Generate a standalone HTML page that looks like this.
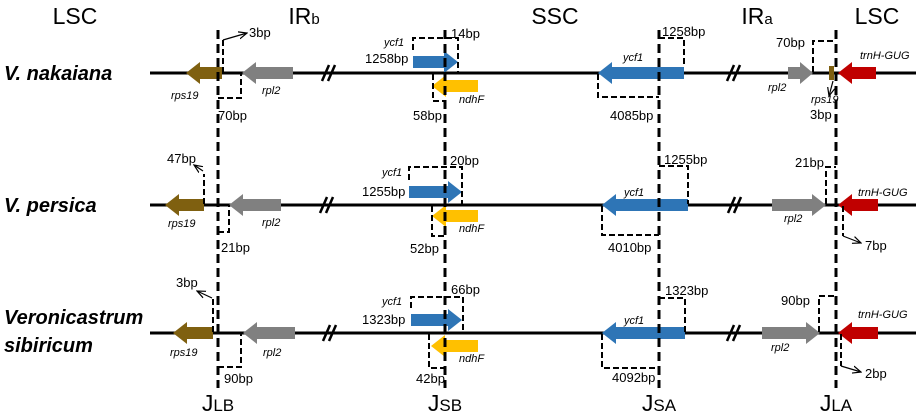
<!DOCTYPE html>
<html><head><meta charset="utf-8"><style>
html,body{margin:0;padding:0;background:#fff}
svg{display:block}
text{font-family:"Liberation Sans",Arial,sans-serif}
.bp{font-size:13px}
.g{font-size:11px;font-style:italic}
.h{font-size:23px}
.sp{font-weight:bold;font-style:italic;font-size:20px}
</style></head><body>
<svg width="921" height="419" viewBox="0 0 921 419" xmlns="http://www.w3.org/2000/svg">
<defs><marker id="ah" markerWidth="8" markerHeight="8" refX="7" refY="4" orient="auto"><path d="M0,1 L7,4 L0,7" fill="none" stroke="#000" stroke-width="1"/></marker></defs>
<text x="75" y="24" class="h" text-anchor="middle">LSC</text>
<text x="304" y="24" class="h" text-anchor="middle">IR<tspan font-size="15">b</tspan></text>
<text x="555" y="24" class="h" text-anchor="middle">SSC</text>
<text x="757" y="24" class="h" text-anchor="middle">IR<tspan font-size="15">a</tspan></text>
<text x="877" y="24" class="h" text-anchor="middle">LSC</text>
<text x="218" y="411" class="h" text-anchor="middle">J<tspan font-size="17">LB</tspan></text>
<text x="445" y="411" class="h" text-anchor="middle">J<tspan font-size="17">SB</tspan></text>
<text x="659" y="411" class="h" text-anchor="middle">J<tspan font-size="17">SA</tspan></text>
<text x="836" y="411" class="h" text-anchor="middle">J<tspan font-size="17">LA</tspan></text>
<text x="4" y="80" class="sp">V. nakaiana</text>
<text x="4" y="212" class="sp">V. persica</text>
<text x="4" y="324" class="sp">Veronicastrum</text>
<text x="4" y="352" class="sp">sibiricum</text>
<g stroke="#000" stroke-width="3">
<line x1="150" y1="73" x2="916" y2="73"/>
<line x1="150" y1="205" x2="916" y2="205"/>
<line x1="150" y1="333" x2="916" y2="333"/>
</g>
<g stroke="#000" stroke-width="2.5">
<line x1="322" y1="81" x2="329" y2="65"/><line x1="328" y1="81" x2="335" y2="65"/>
<line x1="727" y1="81" x2="734" y2="65"/><line x1="733" y1="81" x2="740" y2="65"/>
<line x1="320" y1="213" x2="327" y2="197"/><line x1="326" y1="213" x2="333" y2="197"/>
<line x1="728" y1="213" x2="735" y2="197"/><line x1="734" y1="213" x2="741" y2="197"/>
<line x1="323" y1="341" x2="330" y2="325"/><line x1="329" y1="341" x2="336" y2="325"/>
<line x1="727" y1="341" x2="734" y2="325"/><line x1="733" y1="341" x2="740" y2="325"/>
</g>
<polygon fill="#7f6010" points="186,73 200,62 200,67 222,67 222,79 200,79 200,84"/>
<polygon fill="#808080" points="242,73 256,62 256,67 293,67 293,79 256,79 256,84"/>
<polygon fill="#2e75b6" points="413,56 444,56 444,51 458,62 444,73 444,68 413,68"/>
<polygon fill="#ffc000" points="432,86 446,75 446,80 478,80 478,92 446,92 446,97"/>
<polygon fill="#2e75b6" points="598,73 612,62 612,67 684,67 684,79 612,79 612,84"/>
<polygon fill="#808080" points="788,67 800,67 800,62 813,73 800,84 800,79 788,79"/>
<rect x="829" y="66" width="5" height="14" fill="#7f6010"/>
<polygon fill="#c00000" points="838,73 852,62 852,67 876,67 876,79 852,79 852,84"/>
<polygon fill="#7f6010" points="165,205 179,194 179,199 204,199 204,211 179,211 179,216"/>
<polygon fill="#808080" points="229,205 243,194 243,199 281,199 281,211 243,211 243,216"/>
<polygon fill="#2e75b6" points="409,186 448,186 448,181 462,192 448,203 448,198 409,198"/>
<polygon fill="#ffc000" points="432,216 446,205 446,210 478,210 478,222 446,222 446,227"/>
<polygon fill="#2e75b6" points="602,205 616,194 616,199 688,199 688,211 616,211 616,216"/>
<polygon fill="#808080" points="772,199 812,199 812,194 826,205 812,216 812,211 772,211"/>
<polygon fill="#c00000" points="838,205 852,194 852,199 878,199 878,211 852,211 852,216"/>
<polygon fill="#7f6010" points="173,333 187,322 187,327 213,327 213,339 187,339 187,344"/>
<polygon fill="#808080" points="243,333 257,322 257,327 295,327 295,339 257,339 257,344"/>
<polygon fill="#2e75b6" points="411,314 448,314 448,309 462,320 448,331 448,326 411,326"/>
<polygon fill="#ffc000" points="431,346 445,335 445,340 478,340 478,352 445,352 445,357"/>
<polygon fill="#2e75b6" points="602,333 616,322 616,327 685,327 685,339 616,339 616,344"/>
<polygon fill="#808080" points="762,327 806,327 806,322 820,333 806,344 806,339 762,339"/>
<polygon fill="#c00000" points="838,333 852,322 852,327 878,327 878,339 852,339 852,344"/>
<g stroke="#000" stroke-width="3" stroke-dasharray="9,5">
<line x1="218" y1="30" x2="218" y2="388"/>
<line x1="445" y1="30" x2="445" y2="388"/>
<line x1="659" y1="30" x2="659" y2="388"/>
<line x1="836" y1="30" x2="836" y2="388"/>
</g>
<g stroke="#000" stroke-width="2" fill="none" stroke-dasharray="6,3">
<path d="M223,40 V72"/>
<path d="M218,98 H241 V74"/>
<path d="M413,50 V38 H458 V72"/>
<path d="M433,74 V101 H445"/>
<path d="M659,38 H684 V66"/>
<path d="M598,74 V97 H659"/>
<path d="M813,72 V41 H836"/>
<path d="M204,204 V174"/>
<path d="M218,232 H229 V205"/>
<path d="M409,180 V167 H462 V204"/>
<path d="M432,206 V236 H445"/>
<path d="M659,166 H688 V204"/>
<path d="M602,206 V235 H659"/>
<path d="M826,204 V167 H836"/>
<path d="M843,206 V236"/>
<path d="M213,332 V297"/>
<path d="M218,367 H241 V334"/>
<path d="M411,308 V297 H463 V332"/>
<path d="M429,334 V368 H445"/>
<path d="M659,298 H685 V332"/>
<path d="M602,334 V368 H659"/>
<path d="M819,332 V296 H836"/>
<path d="M841,334 V366"/>
</g>
<g stroke="#000" stroke-width="1.2" marker-end="url(#ah)">
<line x1="223" y1="40" x2="247" y2="33"/>
<line x1="833" y1="81" x2="829" y2="96"/>
<line x1="203" y1="171" x2="194" y2="165"/>
<line x1="843" y1="236" x2="861" y2="243"/>
<line x1="212" y1="298" x2="197" y2="291"/>
<line x1="841" y1="366" x2="861" y2="372"/>
</g>
<g class="bp">
<text x="249" y="37" class="bp">3bp</text>
<text x="218" y="120" class="bp">70bp</text>
<text x="451" y="38" class="bp">14bp</text>
<text x="365" y="63" class="bp">1258bp</text>
<text x="413" y="120" class="bp">58bp</text>
<text x="662" y="36" class="bp">1258bp</text>
<text x="610" y="120" class="bp">4085bp</text>
<text x="776" y="47" class="bp">70bp</text>
<text x="810" y="119" class="bp">3bp</text>
<text x="167" y="163" class="bp">47bp</text>
<text x="221" y="252" class="bp">21bp</text>
<text x="450" y="165" class="bp">20bp</text>
<text x="362" y="196" class="bp">1255bp</text>
<text x="410" y="253" class="bp">52bp</text>
<text x="664" y="164" class="bp">1255bp</text>
<text x="608" y="252" class="bp">4010bp</text>
<text x="795" y="167" class="bp">21bp</text>
<text x="865" y="250" class="bp">7bp</text>
<text x="176" y="287" class="bp">3bp</text>
<text x="224" y="383" class="bp">90bp</text>
<text x="451" y="294" class="bp">66bp</text>
<text x="362" y="324" class="bp">1323bp</text>
<text x="416" y="383" class="bp">42bp</text>
<text x="665" y="295" class="bp">1323bp</text>
<text x="612" y="382" class="bp">4092bp</text>
<text x="781" y="305" class="bp">90bp</text>
<text x="865" y="378" class="bp">2bp</text>
</g>
<g class="g">
<text x="171" y="99">rps19</text>
<text x="262" y="94">rpl2</text>
<text x="384" y="46">ycf1</text>
<text x="459" y="103">ndhF</text>
<text x="623" y="61">ycf1</text>
<text x="768" y="91">rpl2</text>
<text x="811" y="103">rps19</text>
<text x="860" y="59">trnH-GUG</text>
<text x="168" y="227">rps19</text>
<text x="262" y="226">rpl2</text>
<text x="382" y="176">ycf1</text>
<text x="459" y="232">ndhF</text>
<text x="624" y="196">ycf1</text>
<text x="784" y="222">rpl2</text>
<text x="858" y="196">trnH-GUG</text>
<text x="170" y="356">rps19</text>
<text x="263" y="356">rpl2</text>
<text x="382" y="305">ycf1</text>
<text x="459" y="362">ndhF</text>
<text x="624" y="324">ycf1</text>
<text x="771" y="351">rpl2</text>
<text x="858" y="318">trnH-GUG</text>
</g>
</svg>
</body></html>
